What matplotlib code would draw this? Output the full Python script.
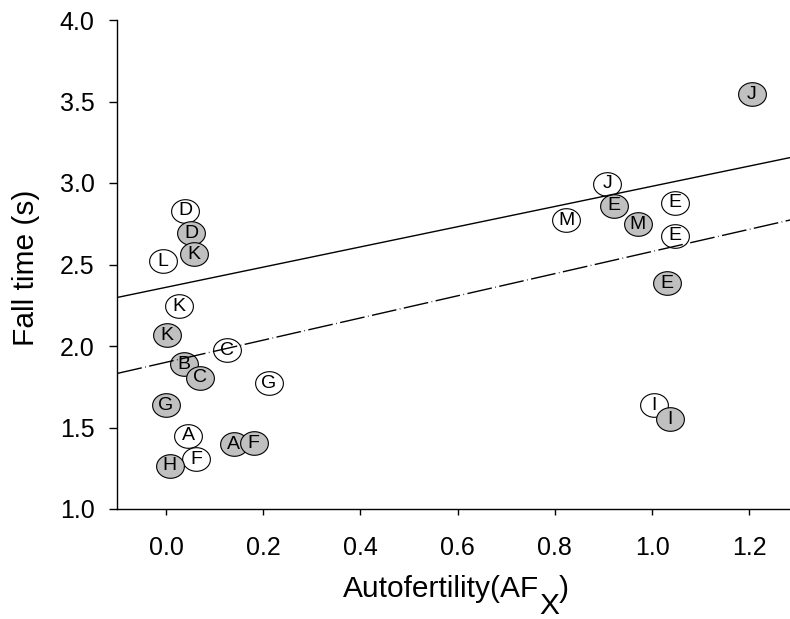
import numpy as np
import matplotlib
matplotlib.use('Agg')
import matplotlib.pyplot as plt
from matplotlib.path import Path

plt.rcParams['font.family'] = ['Liberation Sans', 'DejaVu Sans']

# open symbols
open_labels = ['D', 'L', 'K', 'C', 'G', 'A', 'F', 'J', 'M', 'E', 'E', 'I']
open_x = [0.040, -0.006, 0.027, 0.125, 0.211, 0.046, 0.062, 0.908, 0.823, 1.047, 1.047, 1.003]
open_y = [2.830, 2.521, 2.245, 1.975, 1.771, 1.448, 1.305, 2.994, 2.773, 2.879, 2.675, 1.638]

# filled symbols
filled_labels = ['D', 'K', 'K', 'B', 'C', 'G', 'A', 'F', 'H', 'E', 'M', 'E', 'J', 'I']
filled_x = [0.052, 0.058, 0.001, 0.036, 0.070, 0.000, 0.139, 0.180, 0.008, 0.922, 0.970, 1.030, 1.205, 1.036]
filled_y = [2.691, 2.563, 2.067, 1.888, 1.806, 1.638, 1.397, 1.403, 1.266, 2.861, 2.747, 2.385, 3.544, 1.552]

# regression lines (intercept, slope)
fit_open = (2.36, 0.62)
fit_filled = (1.90, 0.68)

x_ticks = [0.0, 0.2, 0.4, 0.6, 0.8, 1.0, 1.2]
y_ticks = [1.0, 1.5, 2.0, 2.5, 3.0, 3.5, 4.0]

W, H = 790, 619
fig = plt.figure(figsize=(W / 100, H / 100), dpi=100)
# axes spans x -0.1..1.3, right part runs past the figure edge
ax = fig.add_axes([117.4 / W, (H - 509) / H, (798 - 117.4) / W, 489 / H])
ax.set_xlim(-0.1, 1.3)
ax.set_ylim(1.0, 4.0)

# elliptical marker
t = np.linspace(0, 2 * np.pi, 60)
ell = Path(np.column_stack([np.cos(t), 0.85 * np.sin(t)]), closed=True)

ax.scatter(open_x, open_y, s=20 ** 2, marker=ell, facecolor='white',
           edgecolor='black', linewidth=0.8, zorder=2)
for lab, x, y in zip(open_labels, open_x, open_y):
    ax.text(x, y, lab, ha='center', va='center', fontsize=14, zorder=2.1)

ax.scatter(filled_x, filled_y, s=20 ** 2, marker=ell, facecolor='#c0c0c0',
           edgecolor='black', linewidth=0.8, zorder=3)
for lab, x, y in zip(filled_labels, filled_x, filled_y):
    ax.text(x, y, lab, ha='center', va='center', fontsize=14, zorder=3.1)

xl = np.array([-0.1, 1.3])
ax.plot(xl, fit_open[0] + fit_open[1] * xl, color='black', lw=1.0, zorder=4)
ax.plot(xl, fit_filled[0] + fit_filled[1] * xl, color='black', lw=1.0,
        dashes=(18, 2.5, 0.5, 2.5), zorder=4)

ax.spines['top'].set_visible(False)
ax.spines['right'].set_visible(False)
ax.spines['left'].set_linewidth(1.0)
ax.spines['bottom'].set_linewidth(1.0)
ax.set_xticks(x_ticks)
ax.set_xticklabels(['%.1f' % v for v in x_ticks])
ax.set_yticks(y_ticks)
ax.set_yticklabels(['%.1f' % v for v in y_ticks])
ax.tick_params(axis='x', direction='out', length=4.3, width=1.0, pad=15, labelsize=18)
ax.tick_params(axis='y', direction='out', length=6, width=1.0, pad=10.5, labelsize=18)

# axis titles
fig.text(26 / W, 1 - 268 / H, 'Fall time (s)', rotation=90, ha='center', va='center', fontsize=21.5)
r = fig.canvas.get_renderer()
t1 = fig.text(343 / W, 1 - 597 / H, 'Autofertility(AF', ha='left', va='baseline', fontsize=21.5)
e1 = t1.get_window_extent(renderer=r)
t2 = fig.text(e1.x1 / W, 1 - 614 / H, 'X', ha='left', va='baseline', fontsize=21.5)
e2 = t2.get_window_extent(renderer=r)
fig.text(e2.x1 / W, 1 - 597 / H, ')', ha='left', va='baseline', fontsize=21.5)

fig.savefig('out.png', dpi=100)
